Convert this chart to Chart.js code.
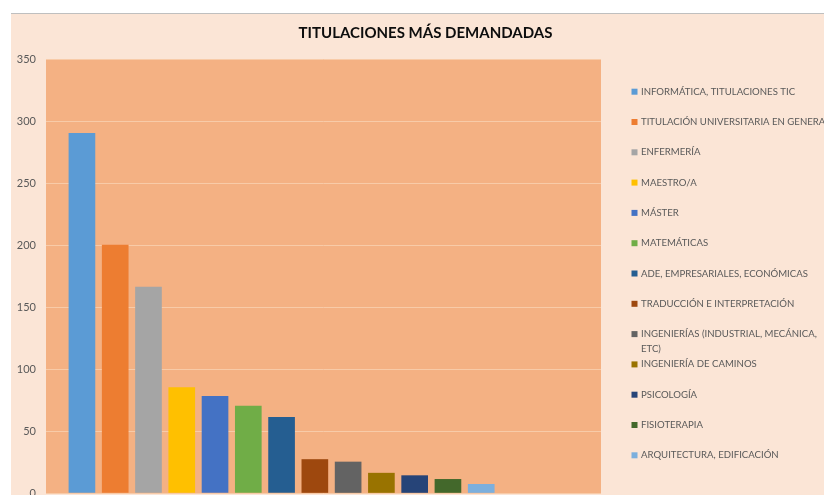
<!DOCTYPE html>
<html>
<head>
<meta charset="utf-8">
<script src="https://cdn.jsdelivr.net/npm/chart.js@4.4.0/dist/chart.umd.min.js"></script>
<style>
  html, body { margin: 0; padding: 0; background: #fff; overflow: hidden; }
  #wrap { position: absolute; left: 11px; top: 13px; width: 829px; height: 481px;
          border-top: 1px solid #BFBFBF; background: #FBE5D6; }
  canvas { display: block; }
</style>
</head>
<body>
<div id="wrap"><canvas id="chart" width="829" height="481"></canvas></div>
<script>
// ============================================================
// DATA
// ============================================================
var chartTitle = 'TITULACIONES MÁS DEMANDADAS';
var categories = [
  'INFORMÁTICA, TITULACIONES TIC',
  'TITULACIÓN UNIVERSITARIA EN GENERAL',
  'ENFERMERÍA',
  'MAESTRO/A',
  'MÁSTER',
  'MATEMÁTICAS',
  'ADE, EMPRESARIALES, ECONÓMICAS',
  'TRADUCCIÓN E INTERPRETACIÓN',
  ['INGENIERÍAS (INDUSTRIAL, MECÁNICA,', 'ETC)'],
  'INGENIERÍA DE CAMINOS',
  'PSICOLOGÍA',
  'FISIOTERAPIA',
  'ARQUITECTURA, EDIFICACIÓN'
];
var demand = [290, 200, 166, 85, 78, 70, 61, 27, 25, 16, 14, 11, 7];
var barColors = ['#5B9BD5', '#ED7D31', '#A5A5A5', '#FFC000', '#4472C4', '#70AD47', '#255E91',
                 '#9E480E', '#636363', '#997300', '#264478', '#43682B', '#7CAFDD'];
var yMin = 0, yMax = 350, yStep = 50;

var FONT = 'Lato, "Liberation Sans", sans-serif';

// plot area fill (Excel style orange)
var plotBg = {
  id: 'plotBg',
  beforeDraw: function(chart) {
    var a = chart.chartArea, ctx = chart.ctx;
    ctx.save();
    ctx.fillStyle = '#F4B183';
    ctx.fillRect(a.left, a.top, a.right - a.left, a.bottom - a.top);
    ctx.restore();
  }
};

// title + legend drawn by hand: title is centred on the whole chart,
// and the wrapped legend item doesn't push the others down
var chartText = {
  id: 'chartText',
  afterDraw: function(chart) {
    var ctx = chart.ctx;
    ctx.save();
    ctx.fillStyle = '#0D0D0D';
    ctx.font = 'bold 15px ' + FONT;
    ctx.textAlign = 'center';
    ctx.textBaseline = 'middle';
    ctx.fillText(chartTitle, chart.width / 2, 19.5);

    var x = chart.chartArea.right + 30.5;
    var y0 = 77.7, step = 30.3;
    ctx.font = '9.6px ' + FONT;
    ctx.textAlign = 'left';
    categories.forEach(function(c, i) {
      var y = y0 + i * step;
      ctx.fillStyle = barColors[i];
      ctx.fillRect(x, y - 3, 6, 6);
      ctx.fillStyle = '#595959';
      [].concat(c).forEach(function(line, j) {
        ctx.fillText(line, x + 9.5, y + j * 15);
      });
    });
    ctx.restore();
  }
};

var points = demand.map(function(v, i) { return { x: i, y: v }; });

new Chart(document.getElementById('chart'), {
  type: 'bar',
  data: {
    labels: categories,
    datasets: [{
      label: chartTitle,
      data: points,
      backgroundColor: barColors,
      barThickness: 26
    }]
  },
  options: {
    responsive: false,
    animation: false,
    layout: { padding: { left: 0, right: 239, top: 45, bottom: 2 } },
    plugins: {
      legend: { display: false },
      tooltip: { enabled: false },
      title: { display: false }
    },
    scales: {
      x: {
        type: 'linear',
        display: false,
        offset: false,
        min: -1.08,
        max: 15.6
      },
      y: {
        min: yMin,
        max: yMax,
        ticks: { stepSize: yStep, color: '#595959', font: { family: FONT, size: 11 }, padding: 10 },
        grid: { color: '#F8CBA8', drawTicks: false },
        border: { display: false },
        afterFit: function(s) {
          s.width = 35;
          s.paddingTop = 0;
          s.paddingBottom = 0;
        }
      }
    }
  },
  plugins: [plotBg, chartText]
});
</script>
</body>
</html>
